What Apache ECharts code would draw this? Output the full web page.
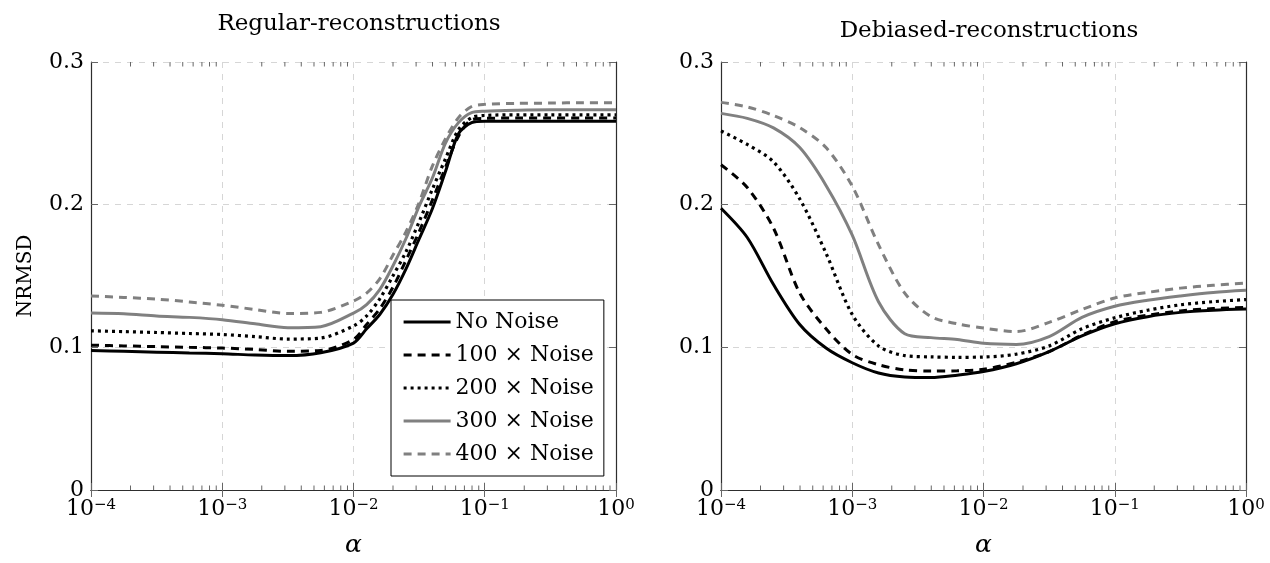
<!DOCTYPE html>
<html>
<head>
<meta charset="utf-8">
<script src="https://cdn.jsdelivr.net/npm/echarts@6/dist/echarts.min.js"></script>
<style>
  body { margin: 0; background: #fff; }
  #main { width: 1270px; height: 563px; }
</style>
</head>
<body>
<div id="main"></div>
<script>
// log10(alpha) sample positions
var leftExp = [-4, -3.75, -3.5, -3.25, -3, -2.75, -2.5, -2.25, -2, -1.9, -1.8, -1.7, -1.6, -1.5, -1.4, -1.3, -1.2, -1.1, -1, -0.75, -0.5, -0.25, 0]
var rightExp = [-4, -3.8, -3.6, -3.4, -3.2, -3, -2.8, -2.6, -2.4, -2.2, -2, -1.75, -1.5, -1.25, -1, -0.75, -0.5, -0.25, 0]

var names = ['No Noise', '100 × Noise', '200 × Noise', '300 × Noise', '400 × Noise']

// Regular-reconstructions
var regNoNoise = [0.0978, 0.0972, 0.0966, 0.0960, 0.0955, 0.0946, 0.0942, 0.0962, 0.1030, 0.1130, 0.1230, 0.1370, 0.1550, 0.1760, 0.1970, 0.2230, 0.2497, 0.2575, 0.2585, 0.2585, 0.2585, 0.2585, 0.2585]
var reg100 = [0.1015, 0.1010, 0.1005, 0.1000, 0.0995, 0.0985, 0.0972, 0.0978, 0.1055, 0.1160, 0.1270, 0.1420, 0.1610, 0.1810, 0.2030, 0.2260, 0.2480, 0.2595, 0.2605, 0.2607, 0.2607, 0.2607, 0.2607]
var reg200 = [0.1116, 0.1110, 0.1104, 0.1097, 0.1090, 0.1075, 0.1058, 0.1065, 0.1150, 0.1220, 0.1340, 0.1500, 0.1670, 0.1880, 0.2106, 0.2320, 0.2525, 0.2610, 0.2625, 0.2630, 0.2630, 0.2630, 0.2630]
var reg300 = [0.1240, 0.1235, 0.1220, 0.1210, 0.1194, 0.1165, 0.1138, 0.1145, 0.1240, 0.1300, 0.1405, 0.1570, 0.1763, 0.1990, 0.2185, 0.2430, 0.2575, 0.2645, 0.2655, 0.2662, 0.2665, 0.2665, 0.2665]
var reg400 = [0.1360, 0.1350, 0.1338, 0.1318, 0.1295, 0.1265, 0.1237, 0.1245, 0.1325, 0.1380, 0.1480, 0.1645, 0.1810, 0.2015, 0.2268, 0.2460, 0.2610, 0.2688, 0.2703, 0.2710, 0.2712, 0.2715, 0.2715]

// Debiased-reconstructions
var debNoNoise = [0.1975, 0.1770, 0.1440, 0.1160, 0.0995, 0.0892, 0.0820, 0.0792, 0.0788, 0.0805, 0.0830, 0.0885, 0.0970, 0.1080, 0.1165, 0.1215, 0.1245, 0.1260, 0.1268]
var deb100 = [0.2280, 0.2120, 0.1835, 0.1380, 0.1130, 0.0950, 0.0878, 0.0842, 0.0834, 0.0836, 0.0846, 0.0895, 0.0970, 0.1085, 0.1180, 0.1225, 0.1255, 0.1272, 0.1280]
var deb200 = [0.2517, 0.2422, 0.2300, 0.2040, 0.1660, 0.1230, 0.1010, 0.0942, 0.0933, 0.0930, 0.0932, 0.0952, 0.1010, 0.1130, 0.1207, 0.1260, 0.1298, 0.1320, 0.1335]
var deb300 = [0.2640, 0.2605, 0.2538, 0.2400, 0.2135, 0.1786, 0.1320, 0.1095, 0.1068, 0.1055, 0.1028, 0.1020, 0.1075, 0.1210, 0.1288, 0.1330, 0.1360, 0.1385, 0.1400]
var deb400 = [0.2717, 0.2685, 0.2625, 0.2540, 0.2400, 0.2130, 0.1720, 0.1380, 0.1215, 0.1165, 0.1135, 0.1110, 0.1175, 0.1265, 0.1346, 0.1385, 0.1415, 0.1435, 0.1450]

var decades = [-4, -3, -2, -1]
var minorMult = [2, 3, 4, 5, 6, 7, 8, 9]

var font = 'DejaVu Serif'
var frameColor = '#2e2e2e'
var tickColor = '#666666'

var styles = [
  { color: '#000000', type: 'solid', width: 3 },
  { color: '#000000', type: [8, 6], width: 3 },
  { color: '#000000', type: [3, 4], width: 3.2 },
  { color: '#808080', type: 'solid', width: 3 },
  { color: '#808080', type: [8, 6], width: 3 }
]

var minorTicks = []
decades.forEach(function (d) {
  minorMult.forEach(function (m) { minorTicks.push([m * Math.pow(10, d), 0]) })
})

function pairs (exps, vals) {
  return exps.map(function (e, i) { return [Math.pow(10, e), vals[i]] })
}

function xLabel (v) {
  var p = Math.round(Math.log10(v))
  return '{b|10}{s|' + (p < 0 ? '\u2212' + (-p) : p) + '}'
}

function xAxes (g) {
  return [
    {
      type: 'log', logBase: 10, min: 0.0001, max: 1, splitNumber: 4, gridIndex: g, position: 'bottom',
      name: 'α', nameLocation: 'middle', nameGap: 43,
      nameTextStyle: { fontFamily: font, fontStyle: 'italic', fontSize: 25, color: '#000' },
      axisLine: { lineStyle: { color: frameColor, width: 1.2 } },
      axisTick: { inside: true, length: 7, lineStyle: { color: tickColor } },
      axisLabel: {
        formatter: xLabel, margin: 8,
        rich: {
          b: { fontFamily: font, fontSize: 22, color: '#000' },
          s: { fontFamily: font, fontSize: 15, color: '#000', verticalAlign: 'top', lineHeight: 14 }
        }
      },
      splitLine: { show: true, lineStyle: { color: '#d6d6d6', type: [6, 6], width: 1 } }
    },
    {
      type: 'log', logBase: 10, min: 0.0001, max: 1, splitNumber: 4, gridIndex: g, position: 'top',
      axisLine: { lineStyle: { color: frameColor, width: 1.2 } },
      axisTick: { inside: true, length: 7, lineStyle: { color: tickColor } },
      axisLabel: { show: false },
      splitLine: { show: false }
    }
  ]
}

function yAxes (g, withName) {
  return [
    {
      type: 'value', min: 0, max: 0.3, interval: 0.1, gridIndex: g, position: 'left',
      name: withName ? 'NRMSD' : '', nameLocation: 'middle', nameGap: 55, nameRotate: 90,
      nameTextStyle: { fontFamily: font, fontSize: 20, color: '#000' },
      axisLine: { show: true, lineStyle: { color: frameColor, width: 1.2 } },
      axisTick: { show: true, inside: true, length: 7, lineStyle: { color: tickColor } },
      axisLabel: {
        margin: 7, fontFamily: font, fontSize: 22, color: '#000',
        formatter: function (v) { return v === 0 ? '0' : v.toFixed(1) }
      },
      splitLine: { show: true, lineStyle: { color: '#d6d6d6', type: [6, 6], width: 1 } }
    },
    {
      type: 'value', min: 0, max: 0.3, interval: 0.1, gridIndex: g, position: 'right',
      axisLine: { show: true, lineStyle: { color: frameColor, width: 1.2 } },
      axisTick: { show: true, inside: true, length: 7, lineStyle: { color: tickColor } },
      axisLabel: { show: false },
      splitLine: { show: false }
    }
  ]
}

function lineSeries (g, exps, arrs) {
  return arrs.map(function (vals, i) {
    return {
      name: names[i], type: 'line', xAxisIndex: g * 2, yAxisIndex: g * 2,
      data: pairs(exps, vals), symbol: 'none', smooth: 0.3, z: 7 - i,
      lineStyle: styles[i], itemStyle: { color: styles[i].color }
    }
  })
}

function minorSeries (g) {
  return {
    type: 'custom', xAxisIndex: g * 2, yAxisIndex: g * 2, silent: true, data: minorTicks,
    renderItem: function (params, api) {
      var a = api.value(0)
      var pb = api.coord([a, 0])
      var pt = api.coord([a, 0.3])
      var st = { stroke: tickColor, lineWidth: 1 }
      return {
        type: 'group',
        children: [
          { type: 'line', shape: { x1: pb[0], y1: pb[1], x2: pb[0], y2: pb[1] - 4.5 }, style: st },
          { type: 'line', shape: { x1: pt[0], y1: pt[1], x2: pt[0], y2: pt[1] + 4.5 }, style: st }
        ]
      }
    }
  }
}

var chart = echarts.init(document.getElementById('main'))

var option = {
  backgroundColor: '#fff',
  animation: false,
  title: [
    { text: 'Regular-reconstructions', left: 354, top: 8, textAlign: 'center',
      textStyle: { fontFamily: font, fontSize: 23, fontWeight: 'normal', color: '#000' } },
    { text: 'Debiased-reconstructions', left: 984, top: 15, textAlign: 'center',
      textStyle: { fontFamily: font, fontSize: 23, fontWeight: 'normal', color: '#000' } }
  ],
  grid: [
    { left: 91, top: 62, width: 525, height: 432 },
    { left: 721, top: 62, width: 525, height: 432 }
  ],
  xAxis: xAxes(0).concat(xAxes(1)),
  yAxis: yAxes(0, true).concat(yAxes(1, false)),
  legend: {
    data: names, orient: 'vertical', left: 391, top: 300,
    backgroundColor: '#fff', borderColor: '#000', borderWidth: 1,
    padding: [11, 10, 11, 11], itemWidth: 47, itemHeight: 14, itemGap: 11,
    itemStyle: { opacity: 0 },
    lineStyle: { width: 3.2 },
    textStyle: { fontFamily: font, fontSize: 22, color: '#000', lineHeight: 22 }
  },
  series: lineSeries(0, leftExp, [regNoNoise, reg100, reg200, reg300, reg400])
    .concat(lineSeries(1, rightExp, [debNoNoise, deb100, deb200, deb300, deb400]))
    .concat([minorSeries(0), minorSeries(1)])
}

chart.setOption(option)
</script>
</body>
</html>
